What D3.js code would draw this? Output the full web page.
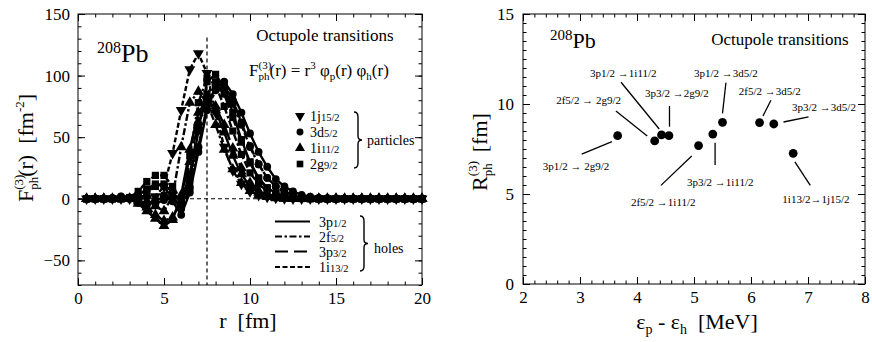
<!DOCTYPE html>
<html lang="en">
<head>
<meta charset="UTF-8">
<title>208Pb octupole transitions</title>
<style>
  body { margin: 0; background: #fff; }
  svg { display: block; font-family: "Liberation Serif", "Times New Roman", Times, serif; }
  text { white-space: pre; }
</style>
<script src="https://d3js.org/d3.v7.min.js"></script>
</head>
<body>
<div id="chart"></div>
<script>

// ---- left panel: transition densities F_ph(r), sampled every 0.5 fm ----
var radii = [0.5,1,1.5,2,2.5,3,3.5,4,4.5,5,5.5,6,6.5,7,7.5,8,8.5,9,9.5,10,
             10.5,11,11.5,12,12.5,13,13.5,14,14.5,15,15.5,16,16.5,17,17.5,18,18.5,19,19.5,20];

var f3p12_2g92  = [0,0,0,0,0,0.5,3,8,12,10, 0,-5,15,55,95,101,90,70,48,30, 17,9,4.5,2,1,0.4,0.2,0,0,0, 0,0,0,0,0,0,0,0,0,0];
var f2f52_2g92  = [0,0,0,0,0,1,6,14,19,19, 10,-1,35,78,98,92,75,55,36,21, 12,6,3,1.4,0.6,0.2,0,0,0,0, 0,0,0,0,0,0,0,0,0,0];
var f3p32_2g92  = [0,0,0,0,0,0.3,2,6,10,12, 5,-2,20,58,85,95,85,66,46,29, 16,8.5,4,2,0.9,0.4,0.2,0,0,0, 0,0,0,0,0,0,0,0,0,0];
var f3p12_1i112 = [0,0,0,0,0,0,-4,-10,-16,-22, -17,3,40,70,80,72,54,35,20,10, 5,2.3,1,0.4,0.1,0,0,0,0,0, 0,0,0,0,0,0,0,0,0,0];
var f2f52_1i112 = [0,0,0,0,0,0,-0.5,-2,-6,-10, 2,42,78,87,78,60,40,24,13,6.5, 3,1.5,0.6,0.2,0,0,0,0,0,0, 0,0,0,0,0,0,0,0,0,0];
var f3p32_1i112 = [0,0,0,0,0,0,-2,-7,-13,-18, -15,-2,30,62,78,75,60,41,25,13, 6.5,3,1.3,0.5,0.2,0,0,0,0,0, 0,0,0,0,0,0,0,0,0,0];
var f3p12_3d52  = [0,0,0,0.5,1.5,1,-2,-4,-2,2, -2,-13,5,38,72,92,95,85,70,53, 38,26,16,10,6,3.2,1.7,0.8,0.4,0.2, 0.1,0,0,0,0,0,0,0,0,0];
var f2f52_3d52  = [0,0,0,0.5,2,1,-3,-5,-4,-1, 0,-5,10,42,72,88,88,77,60,42, 28,17,10,5.5,3,1.5,0.7,0.3,0.1,0, 0,0,0,0,0,0,0,0,0,0];
var f3p32_3d52  = [0,0,0,0.3,1,0,-3,-4,-1,3, 1,-8,8,42,75,93,92,80,62,43, 28,17,10,5.5,3,1.5,0.7,0.3,0.1,0, 0,0,0,0,0,0,0,0,0,0];
var f1i132_1j152 = [0,0,0,0,0,0,0,0.5,2,10, 37,72,105,118,102,70,42,23,12,6, 3,1.5,0.7,0.3,0,0,0,0,0,0, 0,0,0,0,0,0,0,0,0,0];

var particleNames = ["1j15/2", "3d5/2", "1i11/2", "2g9/2"];
var holeNames = ["3p1/2", "2f5/2", "3p3/2", "1i13/2"];

var leftXTicks = [0, 5, 10, 15, 20];
var leftYTicks = [-50, 0, 50, 100, 150];

// ---- right panel: radii vs energy ----
var transitions = ["3p1/2 \u2192 2g9/2", "2f5/2 \u2192 2g9/2", "3p1/2 \u21921i11/2", "3p3/2 \u21922g9/2",
                   "2f5/2 \u21921i11/2", "3p3/2 \u21921i11/2", "3p1/2 \u21923d5/2", "2f5/2 \u21923d5/2",
                   "3p3/2 \u21923d5/2", "1i13/2\u21921j15/2"];
var energies = [3.66, 4.31, 4.43, 4.56, 5.08, 5.33, 5.50, 6.15, 6.40, 6.74];
var rmsRadii = [8.24, 7.95, 8.28, 8.24, 7.69, 8.33, 8.98, 8.97, 8.89, 7.26];
// label anchors and leader lines, in data units
var labelX = [2.93, 3.15, 3.76, 4.70, 4.46, 5.46, 5.56, 6.33, 7.28, 7.14];
var labelY = [6.52, 10.22, 11.74, 10.63, 4.56, 5.65, 11.74, 10.74, 9.85, 4.72];
var leaderFrom = [[3.03,7.22],[3.63,9.61],[3.72,11.21],[4.57,9.89],[4.96,7.11],[5.37,7.85],[5.56,11.18],[6.35,10.21],[7.01,9.29],[6.77,6.79]];
var leaderTo = [[3.56,7.91],[4.18,8.22],[4.39,8.61],[4.57,8.74],[4.42,5.48],[5.37,6.61],[5.50,9.48],[6.21,9.33],[6.57,9.0],[7.04,5.48]];

var rightXTicks = [2, 3, 4, 5, 6, 7, 8];
var rightYTicks = [0, 5, 10, 15];

// curve table: [values, hole index, particle index]
var curves = [
  [f3p12_2g92, 0, 3], [f2f52_2g92, 1, 3], [f3p32_2g92, 2, 3],
  [f3p12_1i112, 0, 2], [f2f52_1i112, 1, 2], [f3p32_1i112, 2, 2],
  [f3p12_3d52, 0, 1], [f2f52_3d52, 1, 1], [f3p32_3d52, 2, 1],
  [f1i132_1j152, 3, 0]
];

var serif = "Liberation Serif, Times New Roman, serif";
var dashes = [null, "7,2.5,2.5,2.5", "13,6", "5,2.5"];
var symbolFor = function(p, size) {
  var type = p == 1 ? d3.symbolCircle : (p == 3 ? d3.symbolSquare : d3.symbolTriangle);
  return d3.symbol().type(type).size(size)();
};

var svg = d3.select("#chart").append("svg")
    .attr("width", 872)
    .attr("height", 342);

// text with sub/superscripts: parts = [text, size, baselineShift, dx]
var richText = function(parent, parts) {
  var t = parent.append("text");
  var prev = 0;
  parts.forEach(function(p) {
    var shift = p[2] || 0;
    t.append("tspan")
      .attr("font-size", p[1])
      .attr("dy", shift - prev)
      .attr("dx", p[3] || 0)
      .text(p[0]);
    prev = shift;
  });
  return t;
};

var drawFrame = function(x, y, xTicks, yTicks, xMinor, yMinor, pad) {
  var g = svg.append("g");
  var x0 = x.range()[0], x1 = x.range()[1], y0 = y.range()[0], y1 = y.range()[1];
  var makers = [d3.axisBottom, d3.axisTop, d3.axisLeft, d3.axisRight];
  var shifts = ["translate(0," + y0 + ")", "translate(0," + y1 + ")",
                "translate(" + x0 + ",0)", "translate(" + x1 + ",0)"];
  makers.forEach(function(make, i) {
    var isX = i < 2;
    var scale = isX ? x : y;
    var major = make(scale).tickValues(isX ? xTicks : yTicks).tickSizeInner(-7).tickSizeOuter(0)
      .tickPadding(isX ? pad[0] : pad[1])
      .tickFormat(i == 1 || i == 3 ? "" : d3.format("d"));
    var ga = g.append("g").attr("transform", shifts[i]).call(major);
    ga.attr("font-family", serif).attr("font-size", 17);
    ga.select(".domain").remove();
    ga.selectAll("text").attr("fill", "#000").attr("font-family", serif);
    var minorAxis = make(scale).tickValues(isX ? xMinor : yMinor)
      .tickSizeInner(-3.5).tickSizeOuter(0).tickFormat("");
    var gm = g.append("g").attr("transform", shifts[i]).call(minorAxis);
    gm.select(".domain").remove();
  });
  g.append("rect")
    .attr("x", x0).attr("y", y1)
    .attr("width", x1 - x0).attr("height", y0 - y1)
    .attr("fill", "none").attr("stroke", "#000").attr("stroke-width", 1);
  return g;
};

// ================= left panel =================
var x1 = d3.scaleLinear().domain([0, 20]).range([78, 422]);
var y1 = d3.scaleLinear().domain([-70, 150]).range([285, 14]);

drawFrame(x1, y1, leftXTicks, leftYTicks,
  d3.range(0, 20.01, 1), d3.range(-70, 150.01, 10), [7, 8]);

var plot1 = svg.append("g");

plot1.append("line")
  .attr("x1", x1(0)).attr("x2", x1(20)).attr("y1", y1(0)).attr("y2", y1(0))
  .attr("stroke", "#000").attr("stroke-width", 1.2).attr("stroke-dasharray", "4,3");
plot1.append("line")
  .attr("x1", x1(7.5)).attr("x2", x1(7.5)).attr("y1", y1(131)).attr("y2", y1(-70))
  .attr("stroke", "#000").attr("stroke-width", 1.2).attr("stroke-dasharray", "4,3");

var line = d3.line()
  .x(function(d, i) { return x1(radii[i]); })
  .y(function(d) { return y1(d); });

curves.forEach(function(c) {
  plot1.append("path")
    .attr("d", line(c[0]))
    .attr("fill", "none")
    .attr("stroke", "#000")
    .attr("stroke-width", 2.4)
    .attr("stroke-dasharray", dashes[c[1]]);
  plot1.selectAll(null)
    .data(c[0])
    .enter()
    .append("path")
      .attr("d", symbolFor(c[2], c[2] == 1 ? 48 : 52))
      .attr("transform", function(d, i) {
        return "translate(" + x1(radii[i]) + "," + y1(d) + ")" + (c[2] == 0 ? " rotate(180)" : "");
      })
      .attr("fill", "#000");
});

// title texts
richText(svg, [["208", 16, -9], ["Pb", 26, 0]]).attr("x", 97).attr("y", 62);
svg.append("text").attr("x", 325).attr("y", 41).attr("text-anchor", "middle")
  .attr("font-size", 17).text("Octupole transitions");
richText(svg, [["F", 17], ["(3)", 11, -7.5], ["ph", 11, 4, -12.8], ["(r) = r", 17, 0], ["3", 11, -7],
  [" \u03c6", 17, 0], ["p", 11, 4], ["(r) \u03c6", 17, 0], ["h", 11, 4], ["(r)", 17, 0]])
  .attr("x", 249).attr("y", 76);

// brace helper
var brace = function(x, top, bottom) {
  var m = (top + bottom) / 2;
  var p = d3.path();
  p.moveTo(x, top);
  p.quadraticCurveTo(x + 4, top, x + 4, top + 5);
  p.lineTo(x + 4, m - 4);
  p.quadraticCurveTo(x + 4, m, x + 8, m);
  p.quadraticCurveTo(x + 4, m, x + 4, m + 4);
  p.lineTo(x + 4, bottom - 5);
  p.quadraticCurveTo(x + 4, bottom, x, bottom);
  svg.append("path").attr("d", p.toString())
    .attr("fill", "none").attr("stroke", "#000").attr("stroke-width", 1.4);
};

// particle legend
var legendRows = [116, 132, 148, 164];
particleNames.forEach(function(name, i) {
  svg.append("path")
    .attr("d", symbolFor(i, i == 1 ? 38 : 44))
    .attr("transform", "translate(300," + legendRows[i] + ")" + (i == 0 ? " rotate(180)" : ""))
    .attr("fill", "#000");
  var cut = name.search(/[0-9]+\//);
  richText(svg, [[name.slice(0, cut), 14, 0], [name.slice(cut), 10.5, 0]])
    .attr("x", 310).attr("y", legendRows[i] + 5);
});
brace(354, 112, 168);
svg.append("text").attr("x", 367).attr("y", 145).attr("font-size", 14).text("particles");

// hole legend
var holeRows = [221.5, 236.5, 251.5, 267];
holeNames.forEach(function(name, i) {
  svg.append("line")
    .attr("x1", 275).attr("x2", 310).attr("y1", holeRows[i]).attr("y2", holeRows[i])
    .attr("stroke", "#000").attr("stroke-width", 2)
    .attr("stroke-dasharray", dashes[i]);
  var cut = name.search(/[0-9]+\//);
  richText(svg, [[name.slice(0, cut), 14, 0], [name.slice(cut), 10.5, 0]])
    .attr("x", 319).attr("y", holeRows[i] + 5);
});
brace(360, 216, 271);
svg.append("text").attr("x", 374).attr("y", 253).attr("font-size", 14).text("holes");

// axis labels
richText(svg, [["F", 22], ["(3)", 13, -10], ["ph", 13, 5, -15.2], ["(r)  [fm", 22, 0], ["-2", 13, -9], ["]", 22, 0]])
  .attr("text-anchor", "middle")
  .attr("transform", "translate(33,148) rotate(-90)");
svg.append("text").attr("x", 248).attr("y", 328).attr("text-anchor", "middle")
  .attr("font-size", 22).text("r  [fm]");

// ================= right panel =================
var x2 = d3.scaleLinear().domain([2, 8]).range([523, 865]);
var y2 = d3.scaleLinear().domain([0, 15]).range([284, 14]);

drawFrame(x2, y2, rightXTicks, rightYTicks,
  d3.range(2, 8.001, 0.2), d3.range(0, 15.001, 0.5), [7, 9]);

var plot2 = svg.append("g");

plot2.selectAll("line.leader")
  .data(leaderFrom)
  .enter()
  .append("line")
    .attr("x1", function(d) { return x2(d[0]); })
    .attr("y1", function(d) { return y2(d[1]); })
    .attr("x2", function(d, i) { return x2(leaderTo[i][0]); })
    .attr("y2", function(d, i) { return y2(leaderTo[i][1]); })
    .attr("stroke", "#000").attr("stroke-width", 1.3);

plot2.selectAll("circle")
  .data(energies)
  .enter()
  .append("circle")
    .attr("cx", function(d) { return x2(d); })
    .attr("cy", function(d, i) { return y2(rmsRadii[i]); })
    .attr("r", 4.4)
    .attr("fill", "#000");

plot2.selectAll("text.lab")
  .data(transitions)
  .enter()
  .append("text")
    .attr("x", function(d, i) { return x2(labelX[i]); })
    .attr("y", function(d, i) { return y2(labelY[i]); })
    .attr("dy", "0.35em")
    .attr("text-anchor", "middle")
    .attr("font-size", 11)
    .text(function(d) { return d; });

richText(svg, [["208", 15, -8], ["Pb", 22, 0]]).attr("x", 550).attr("y", 48);
svg.append("text").attr("x", 780).attr("y", 45).attr("text-anchor", "middle")
  .attr("font-size", 17).text("Octupole transitions");

richText(svg, [["R", 22], ["(3)", 13, -10], ["ph", 13, 5, -15.2], ["  [fm]", 22, 0]])
  .attr("text-anchor", "middle")
  .attr("transform", "translate(487,152) rotate(-90)");
richText(svg, [["\u03b5", 22], ["p", 14, 5], [" - \u03b5", 22, 0], ["h", 14, 5], ["  [MeV]", 22, 0]])
  .attr("text-anchor", "middle")
  .attr("x", 697).attr("y", 329);

</script>
</body>
</html>
